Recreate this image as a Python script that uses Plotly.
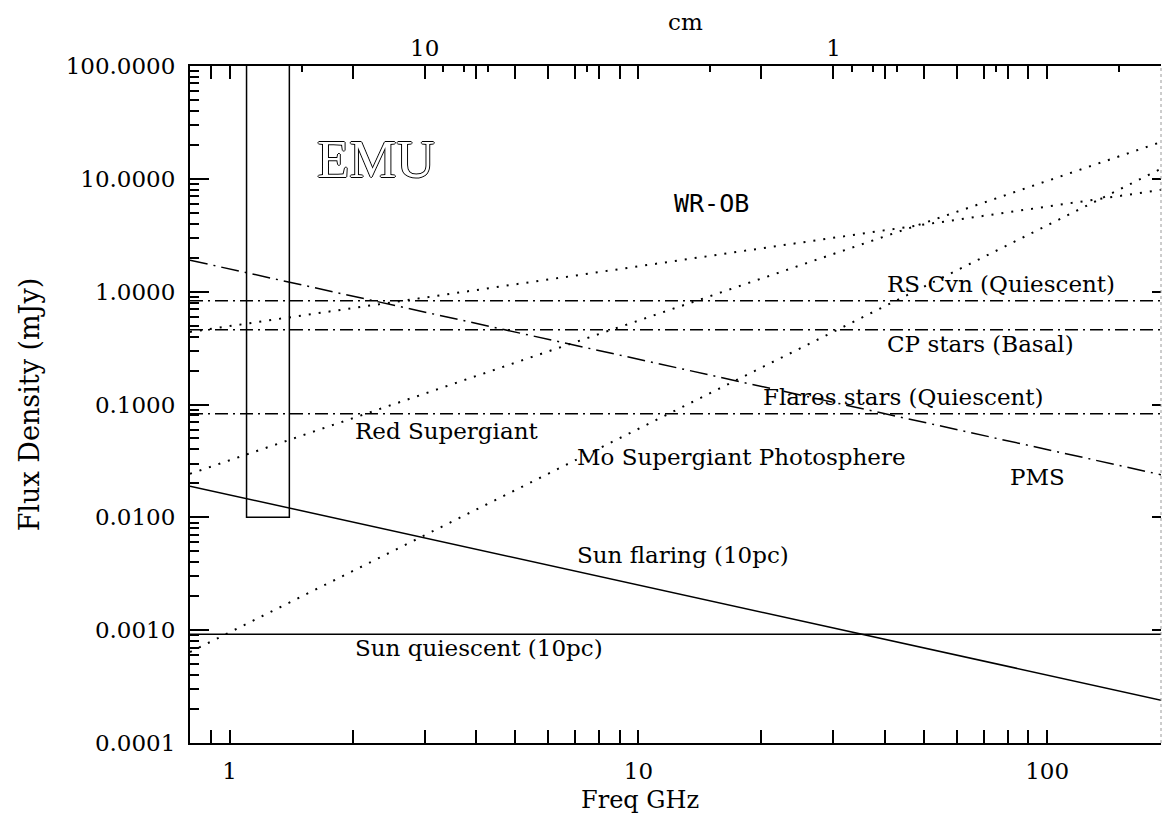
import numpy as np
import plotly.graph_objects as go

# ---------------- data ----------------
freq_ghz = [0.8, 200.0]                 # end points of every model line (GHz)
sun_quiescent = [0.00092, 0.00092]      # mJy
sun_flaring = [0.0189, 0.00023]
pms = [1.90, 0.0229]
rs_cvn = [0.83, 0.83]
cp_stars = [0.46, 0.46]
flare_stars = [0.083, 0.083]
wr_ob = [0.44, 8.2]
red_supergiant = [0.0243, 22.6]
mo_supergiant = [0.00064, 13.5]

emu_band_freq = [1.1, 1.1, 1.4, 1.4]
emu_band_flux = [100.0, 0.01, 0.01, 100.0]

y_tickvals = [0.0001, 0.001, 0.01, 0.1, 1.0, 10.0, 100.0]
y_ticktext = ["0.0001", "0.0010", "0.0100", "0.1000", "1.0000", "10.0000", "100.0000"]
y_minor = [k * 10.0 ** e for e in range(-4, 2) for k in range(2, 10)]

x_tickvals = [1, 10, 100]
x_ticktext = ["1", "10", "100"]
x_minor = [0.8, 0.9] + [k * 10.0 ** e for e in range(0, 3) for k in range(2, 10)]

cm_major = [10, 1]
cm_major_text = ["10", "1"]
cm_minor = [30, 20, 9, 8, 7, 6, 5, 4, 3, 2, 0.9, 0.8, 0.7, 0.6, 0.5, 0.4, 0.3, 0.2]

# label text, frequency (GHz), flux (mJy)
labels = [
    ("WR-OB", 12.1, 6.1),
    ("RS Cvn (Quiescent)", 40.0, 1.18),
    ("CP stars (Basal)", 40.0, 0.345),
    ("Flares stars (Quiescent)", 20.0, 0.117),
    ("Red Supergiant", 2.0, 0.0585),
    ("Mo Supergiant Photosphere", 7.0, 0.0344),
    ("PMS", 80.0, 0.0229),
    ("Sun flaring (10pc)", 7.0, 0.00466),
    ("Sun quiescent (10pc)", 2.0, 0.000697),
]
emu_label = ("EMU", 1.62, 15.1)

x_title = "Freq GHz"
y_title = "Flux Density (mJy)"
top_title = "cm"

# ---------------- figure ----------------
SERIF = "DejaVu Serif"
BLACK = "black"
fig = go.Figure()

def add_line(y, dash, width=1.5):
    fig.add_trace(go.Scatter(x=freq_ghz, y=y, mode="lines",
                             line=dict(color=BLACK, width=width, dash=dash),
                             hoverinfo="skip", showlegend=False))

DOT = "2px,8px"
DASHDOT = "13px,5px,2px,5px"
add_line(sun_quiescent, "solid")
add_line(sun_flaring, "solid")
add_line(pms, "18px,6px,2px,6px")
add_line(rs_cvn, DASHDOT)
add_line(cp_stars, DASHDOT)
add_line(flare_stars, DASHDOT)
add_line(wr_ob, DOT, 2)
add_line(red_supergiant, DOT, 2)
add_line(mo_supergiant, DOT, 2)

fig.add_trace(go.Scatter(x=emu_band_freq, y=emu_band_flux, mode="lines",
                         line=dict(color=BLACK, width=1.5),
                         hoverinfo="skip", showlegend=False))

# helper traces so that the top (cm) and right axes are drawn
fig.add_trace(go.Scatter(x=[1], y=[1], xaxis="x2", yaxis="y", mode="markers",
                         marker=dict(opacity=0), hoverinfo="skip", showlegend=False))
fig.add_trace(go.Scatter(x=[1], y=[1], xaxis="x", yaxis="y2", mode="markers",
                         marker=dict(opacity=0), hoverinfo="skip", showlegend=False))

for text, f, s in labels:
    mono = text == "WR-OB"
    fig.add_annotation(x=np.log10(f), y=np.log10(s), xref="x", yref="y",
                       text=text, showarrow=False, xanchor="left", yanchor="middle",
                       font=dict(family="DejaVu Sans Mono" if mono else SERIF,
                                 size=25 if mono else 23, color=BLACK))

fig.add_annotation(x=np.log10(emu_label[1]), y=np.log10(emu_label[2]), xref="x", yref="y",
                   text=emu_label[0], showarrow=False, xanchor="left", yanchor="middle",
                   font=dict(family="Liberation Serif", size=53, color="white",
                             shadow="1px 0 0 #000, -1px 0 0 #000, 0 1px 0 #000, 0 -1px 0 #000"))

# axis titles (placed where the reference has them)
fig.add_annotation(x=0.4634, y=-0.084, xref="paper", yref="paper", text=x_title,
                   showarrow=False, xanchor="center", yanchor="middle",
                   font=dict(family=SERIF, size=24, color=BLACK))
fig.add_annotation(x=0.510, y=1.065, xref="paper", yref="paper", text=top_title,
                   showarrow=False, xanchor="center", yanchor="middle",
                   font=dict(family=SERIF, size=23, color=BLACK))
fig.add_annotation(x=-0.165, y=0.50, xref="paper", yref="paper", text=y_title,
                   showarrow=False, xanchor="center", yanchor="middle", textangle=-90,
                   font=dict(family=SERIF, size=27, color=BLACK))

x_range = [np.log10(0.8), 2.2784]

fig.update_layout(
    template="none",
    width=1162, height=818,
    margin=dict(l=190, r=1, t=66, b=75),
    paper_bgcolor="white", plot_bgcolor="white",
    showlegend=False,
    font=dict(family=SERIF, size=23, color=BLACK),
    xaxis=dict(
        type="log", range=x_range, automargin=False,
        showline=True, linewidth=2, linecolor=BLACK, mirror="allticks",
        showgrid=False, zeroline=False,
        ticks="inside", ticklen=13, tickwidth=2, tickcolor=BLACK,
        tickmode="array", tickvals=x_tickvals, ticktext=x_ticktext,
        tickfont=dict(family=SERIF, size=23),
        ticklabelstandoff=6,
        minor=dict(tickmode="array", tickvals=x_minor, ticks="inside",
                   ticklen=6, tickwidth=2, tickcolor=BLACK, showgrid=False),
    ),
    xaxis2=dict(
        type="log", range=x_range, overlaying="x", side="top", anchor="y",
        automargin=False, showline=False, showgrid=False, zeroline=False,
        ticks="inside", ticklen=13, tickwidth=2, tickcolor=BLACK,
        tickmode="array", tickvals=[30.0 / c for c in cm_major], ticktext=cm_major_text,
        tickfont=dict(family=SERIF, size=23),
        ticklabelstandoff=4,
        minor=dict(tickmode="array", tickvals=[30.0 / c for c in cm_minor], ticks="inside",
                   ticklen=6, tickwidth=2, tickcolor=BLACK, showgrid=False),
    ),
    yaxis=dict(
        type="log", range=[-4, 2], automargin=False,
        showline=True, linewidth=2, linecolor=BLACK, mirror=False,
        showgrid=False, zeroline=False,
        ticks="inside", ticklen=19, tickwidth=2, tickcolor=BLACK,
        tickmode="array", tickvals=y_tickvals, ticktext=y_ticktext,
        tickfont=dict(family=SERIF, size=23),
        ticklabelstandoff=8,
        minor=dict(tickmode="array", tickvals=y_minor, ticks="inside",
                   ticklen=9, tickwidth=2, tickcolor=BLACK, showgrid=False),
    ),
    yaxis2=dict(
        type="log", range=[-4, 2], overlaying="y", side="right", anchor="x",
        automargin=False, showline=False, showgrid=False, zeroline=False,
        ticks="inside", ticklen=9, tickwidth=2, tickcolor=BLACK,
        tickmode="array", tickvals=y_tickvals, showticklabels=False,
    ),
)

fig.add_shape(type="line", xref="paper", yref="paper", x0=1, x1=1, y0=0, y1=1,
              line=dict(color="#9a9a9a", width=1, dash="dot"))

fig.write_html("out.html")
